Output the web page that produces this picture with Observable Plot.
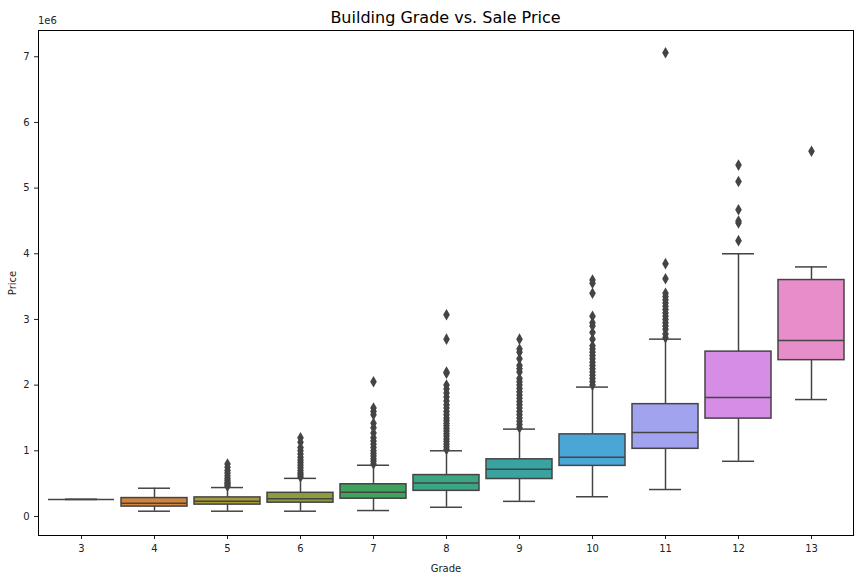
<!DOCTYPE html>
<html><head><meta charset="utf-8">
<script src="https://cdn.jsdelivr.net/npm/d3@7"></script>
<script src="https://cdn.jsdelivr.net/npm/@observablehq/plot@0.6"></script>
<style>
body{margin:0;background:#fff;font-family:"DejaVu Sans",sans-serif}
#wrap{position:relative;width:864px;height:576px}
#title{position:absolute;top:8px;left:38px;width:815px;text-align:center;font-size:16px;color:#000}
#exp{position:absolute;top:15px;left:38px;font-size:10px;color:#222}
</style></head><body>
<div id="wrap"><div id="title">Building Grade vs. Sale Price</div><div id="exp">1e6</div><div id="chart"></div></div>
<script>
// values in millions of dollars (axis multiplier 1e6)
const grades = ["3","4","5","6","7","8","9","10","11","12","13"];
const whiskerLow  = [0.26,0.08,0.08,0.08,0.09,0.14,0.23,0.30,0.41,0.84,1.78];
const q1          = [0.26,0.15,0.18,0.21,0.27,0.39,0.57,0.77,1.03,1.49,2.38];
const median      = [0.26,0.20,0.23,0.27,0.37,0.51,0.72,0.90,1.28,1.81,2.68];
const q3          = [0.26,0.28,0.29,0.36,0.49,0.63,0.87,1.25,1.71,2.51,3.60];
const whiskerHigh = [0.26,0.43,0.44,0.58,0.78,1.00,1.33,1.97,2.70,4.00,3.80];
const colors = ["#c3625e","#d2843c","#a69a3b","#8c9d3c","#3fa35b","#3ba584","#3ba39f","#4aa6d6","#a2a3ee","#d68de5","#e78dc9"];
const outliers = {
  "5":[0.46,0.48,0.5,0.52,0.55,0.58,0.62,0.66,0.7,0.75,0.8],
  "6":[0.6,0.63,0.66,0.7,0.74,0.78,0.82,0.86,0.9,0.95,1.0,1.05,1.13,1.2],
  "7":[0.8,0.84,0.88,0.92,0.96,1.0,1.05,1.1,1.15,1.2,1.27,1.35,1.42,1.55,1.6,1.65,2.05],
  "8":[1.02,1.06,1.1,1.14,1.18,1.22,1.26,1.3,1.34,1.38,1.42,1.46,1.5,1.55,1.6,1.65,1.7,1.76,1.82,1.88,1.94,2.0,2.18,2.2,2.7,3.07],
  "9":[1.35,1.4,1.45,1.5,1.55,1.6,1.65,1.7,1.75,1.8,1.85,1.9,1.95,2.0,2.05,2.1,2.2,2.25,2.3,2.4,2.5,2.55,2.7],
  "10":[2.0,2.05,2.1,2.15,2.2,2.25,2.3,2.35,2.4,2.45,2.5,2.55,2.6,2.7,2.8,2.9,2.95,3.05,3.4,3.55,3.6],
  "11":[2.72,2.78,2.85,2.9,2.95,3.0,3.05,3.1,3.15,3.2,3.25,3.3,3.35,3.4,3.62,3.85,7.06],
  "12":[4.2,4.47,4.5,4.67,5.1,5.35],
  "13":[5.56]
};
const boxes = grades.map((g,i)=>({g,lo:whiskerLow[i],q1:q1[i],med:median[i],q3:q3[i],hi:whiskerHigh[i],c:colors[i]}));
const pts = Object.entries(outliers).flatMap(([g,vs])=>vs.map(v=>({g,v})));
const line="#444";
const chart = Plot.plot({
  width:864,height:576,marginLeft:38,marginRight:11,marginTop:30,marginBottom:41,
  style:{fontSize:"10px",fontFamily:"DejaVu Sans, sans-serif",color:"#222"},
  x:{type:"band",domain:grades,padding:0.1,label:"Grade",labelAnchor:"center",labelArrow:"none",labelOffset:36,tickSize:4},
  y:{domain:[-0.29,7.4],ticks:[0,1,2,3,4,5,6,7],tickFormat:d=>String(d),label:"Price",labelAnchor:"center",labelArrow:"none",labelOffset:30,tickSize:4},
  marks:[
    Plot.ruleX(boxes,{x:"g",y1:"lo",y2:"q1",stroke:line,strokeWidth:1.5}),
    Plot.ruleX(boxes,{x:"g",y1:"q3",y2:"hi",stroke:line,strokeWidth:1.5}),
    Plot.tickY(boxes,{x:"g",y:"lo",stroke:line,strokeWidth:1.5,insetLeft:17,insetRight:17}),
    Plot.tickY(boxes,{x:"g",y:"hi",stroke:line,strokeWidth:1.5,insetLeft:17,insetRight:17}),
    Plot.rectY(boxes,{x:"g",y1:"q1",y2:"q3",fill:"c",stroke:line,strokeWidth:1.5}),
    Plot.tickY(boxes,{x:"g",y:"med",stroke:line,strokeWidth:1.5}),
    Plot.dot(pts,{x:"g",y:"v",symbol:"diamond",r:3.5,fill:line,stroke:"none"}),
    Plot.frame({stroke:"#000",strokeWidth:1})
  ]
});
document.getElementById("chart").appendChild(chart);
</script></body></html>
